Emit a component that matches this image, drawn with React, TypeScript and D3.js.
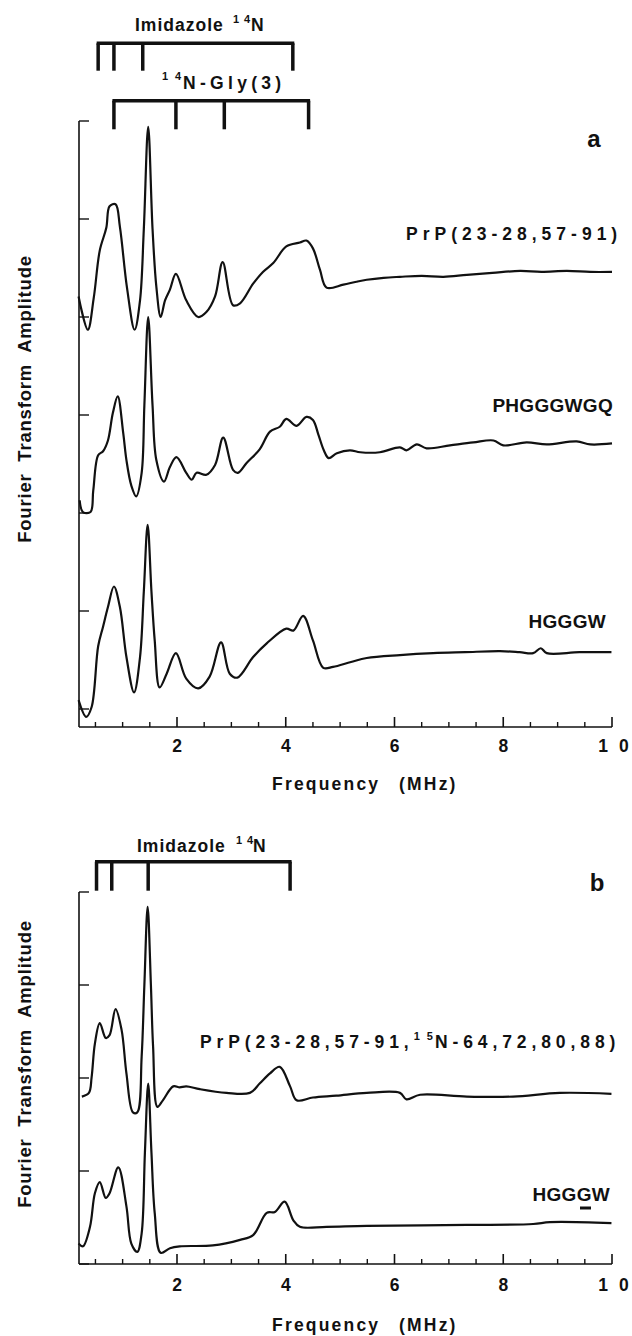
import { useEffect, useRef } from 'react';
import * as d3 from 'd3';

// traces: [frequency (MHz), amplitude in y-tick units]
const prpA = [[0.19,4.21],[0.36,3.87],[0.47,4.2],[0.58,4.68],[0.70,4.91],[0.76,5.13],[0.87,5.15],[0.95,4.92],[1.08,4.3],[1.22,3.87],[1.32,4.17],[1.39,4.9],[1.47,5.94],[1.55,4.9],[1.62,4.31],[1.70,4.00],[1.78,4.17],[1.87,4.28],[1.98,4.44],[2.17,4.17],[2.39,4.00],[2.54,4.05],[2.70,4.21],[2.84,4.56],[3.03,4.12],[3.16,4.14],[3.40,4.34],[3.58,4.46],[3.77,4.55],[4.01,4.72],[4.26,4.76],[4.38,4.78],[4.50,4.70],[4.63,4.48],[4.75,4.30],[5.06,4.33],[5.30,4.36],[5.49,4.38],[5.80,4.40],[6.10,4.41],[6.50,4.42],[6.90,4.41],[7.33,4.43],[7.80,4.45],[8.31,4.47],[8.70,4.46],[9.17,4.47],[9.60,4.46],[10.0,4.46]];
const phgggwgq = [[0.21,2.13],[0.27,2.01],[0.41,2.01],[0.46,2.23],[0.55,2.59],[0.64,2.63],[0.73,2.74],[0.82,3.02],[0.91,3.19],[1.01,2.82],[1.07,2.54],[1.16,2.28],[1.25,2.17],[1.35,2.41],[1.40,3.1],[1.47,4.00],[1.55,3.1],[1.62,2.54],[1.76,2.32],[1.87,2.47],[1.99,2.57],[2.17,2.41],[2.27,2.34],[2.36,2.41],[2.54,2.39],[2.70,2.49],[2.85,2.77],[3.03,2.44],[3.12,2.41],[3.28,2.51],[3.52,2.65],[3.71,2.83],[3.89,2.88],[4.01,2.96],[4.20,2.89],[4.38,2.98],[4.50,2.95],[4.60,2.80],[4.70,2.64],[4.79,2.56],[4.94,2.61],[5.18,2.64],[5.37,2.62],[5.73,2.62],[6.10,2.67],[6.22,2.64],[6.41,2.70],[6.59,2.66],[7.02,2.69],[7.45,2.72],[7.82,2.74],[8.00,2.69],[8.43,2.72],[8.80,2.70],[9.35,2.73],[9.60,2.70],[10.0,2.71]];
const hgggwA = [[0.19,0.09],[0.33,-0.08],[0.43,0.02],[0.55,0.64],[0.64,0.84],[0.73,1.04],[0.84,1.25],[0.95,1.04],[1.07,0.53],[1.21,0.17],[1.32,0.53],[1.39,1.2],[1.46,1.88],[1.53,1.2],[1.59,0.70],[1.68,0.22],[1.81,0.36],[1.98,0.57],[2.17,0.31],[2.39,0.21],[2.60,0.33],[2.81,0.68],[2.97,0.36],[3.11,0.32],[3.40,0.53],[3.65,0.67],[4.01,0.82],[4.14,0.80],[4.32,0.95],[4.50,0.70],[4.69,0.42],[4.87,0.43],[5.2,0.48],[5.49,0.52],[6.1,0.55],[6.71,0.57],[7.3,0.58],[7.94,0.59],[8.3,0.58],[8.55,0.57],[8.69,0.62],[8.80,0.57],[9.4,0.58],[9.99,0.58]];
const prpB = [[0.25,1.80],[0.38,1.84],[0.43,2.01],[0.49,2.37],[0.58,2.59],[0.69,2.43],[0.76,2.46],[0.87,2.74],[0.98,2.52],[1.07,2.05],[1.19,1.63],[1.27,1.63],[1.35,2.23],[1.40,3.0],[1.46,3.84],[1.52,3.0],[1.56,2.34],[1.64,1.69],[1.74,1.76],[1.93,1.91],[2.05,1.90],[2.17,1.91],[2.42,1.88],[2.91,1.84],[3.34,1.84],[3.52,1.94],[3.71,2.05],[3.89,2.12],[4.08,1.91],[4.20,1.76],[4.50,1.79],[4.93,1.81],[5.49,1.84],[6.10,1.84],[6.22,1.77],[6.47,1.82],[7.33,1.80],[8.18,1.80],[9.04,1.84],[9.99,1.83]];
const hgggwB = [[0.19,0.22],[0.27,0.19],[0.40,0.40],[0.49,0.76],[0.58,0.88],[0.69,0.71],[0.76,0.76],[0.92,1.04],[1.07,0.62],[1.16,0.22],[1.27,0.13],[1.35,0.33],[1.41,1.2],[1.47,1.94],[1.53,1.2],[1.59,0.55],[1.70,0.12],[1.87,0.17],[2.05,0.19],[2.66,0.20],[3.16,0.26],[3.40,0.31],[3.65,0.55],[3.80,0.56],[3.98,0.67],[4.14,0.47],[4.26,0.40],[4.75,0.40],[5.49,0.41],[7.33,0.42],[8.55,0.43],[8.86,0.45],[9.99,0.44]];

// stick diagrams (MHz)
const imidazoleA = [0.55, 0.84, 1.37, 4.13];
const glyA = [0.84, 1.98, 2.87, 4.42];
const imidazoleB = [0.52, 0.80, 1.47, 4.08];

const majorTicks = [2, 4, 6, 8, 10];
const tickLabels = ['2', '4', '6', '8', '1 0'];
const minorTicks = [0.5, 1, 1.5, 2.5, 3, 3.5, 4.5, 5, 5.5, 6.5, 7, 7.5, 8.5, 9, 9.5];
const yTicksA = [0, 1, 2, 3, 4, 5, 6];
const yTicksB = [0, 1, 2, 3, 4];

const FONT = "'Liberation Sans', Arial, Helvetica, sans-serif";

const App = () => {
  const svgRef = useRef(null);

  useEffect(() => {
    if (!svgRef.current) return;
    const svg = d3.select(svgRef.current);
    svg.selectAll('*').remove();

    const x = d3.scaleLinear().domain([0, 10]).range([68.25, 612]);
    const axisLeft = 79;

    const text = (tx, ty, str, size, opts = {}) =>
      svg.append('text')
        .attr('x', tx).attr('y', ty)
        .attr('font-family', FONT)
        .attr('font-weight', 'bold')
        .attr('font-size', size)
        .attr('letter-spacing', opts.ls ?? 0)
        .attr('text-anchor', opts.anchor ?? 'start')
        .attr('fill', '#111')
        .text(str);

    const bracket = (freqs, yH, yB) => {
      const g = svg.append('g').attr('stroke', '#111').attr('stroke-width', 3.5).attr('fill', 'none');
      g.append('line').attr('x1', x(freqs[0]) - 1.5).attr('x2', x(freqs[freqs.length - 1]) + 1.5)
        .attr('y1', yH).attr('y2', yH);
      freqs.forEach(f => {
        g.append('line').attr('x1', x(f)).attr('x2', x(f)).attr('y1', yH).attr('y2', yB);
      });
    };

    const panel = (y, yTicks, yTop, yBottom, traces, labelY, freqLabelY, ylabY) => {
      const g = svg.append('g').attr('stroke', '#111').attr('fill', 'none');
      // axes
      g.append('line').attr('x1', axisLeft).attr('x2', axisLeft).attr('y1', yTop).attr('y2', yBottom).attr('stroke-width', 1.6);
      g.append('line').attr('x1', axisLeft).attr('x2', x(10)).attr('y1', yBottom).attr('y2', yBottom).attr('stroke-width', 1.6);
      yTicks.forEach(t => {
        g.append('line').attr('x1', axisLeft).attr('x2', axisLeft + 10).attr('y1', y(t)).attr('y2', y(t)).attr('stroke-width', 1.4);
      });
      majorTicks.forEach(t => {
        g.append('line').attr('x1', x(t)).attr('x2', x(t)).attr('y1', yBottom).attr('y2', yBottom - 10).attr('stroke-width', 1.6);
      });
      minorTicks.forEach(t => {
        g.append('line').attr('x1', x(t)).attr('x2', x(t)).attr('y1', yBottom).attr('y2', yBottom - 5).attr('stroke-width', 1.4);
      });
      // traces
      const line = d3.line().x(d => x(d[0])).y(d => y(d[1])).curve(d3.curveCatmullRom.alpha(0.5));
      traces.forEach(tr => {
        g.append('path').attr('d', line(tr)).attr('stroke-width', 2.2).attr('stroke-linejoin', 'round');
      });
      // tick labels
      majorTicks.forEach((t, i) => {
        text(x(t) + (t === 10 ? 3 : 0), labelY, tickLabels[i], 17.5, { anchor: 'middle', ls: t === 10 ? 3 : 0 });
      });
      text(272, freqLabelY, 'Frequency', 17.5, { ls: 2.2 });
      text(399, freqLabelY, '(MHz)', 17.5, { ls: 2.2 });
      svg.append('text')
        .attr('transform', `translate(31,${ylabY}) rotate(-90)`)
        .attr('font-family', FONT).attr('font-weight', 'bold').attr('font-size', 18.5)
        .attr('letter-spacing', 0.8).attr('text-anchor', 'middle').attr('fill', '#111')
        .style('white-space', 'pre')
        .text('Fourier  Transform  Amplitude');
    };

    // ---------- panel a ----------
    const yA = d3.scaleLinear().domain([0, 6]).range([709, 121]);
    panel(yA, yTicksA, 121, 727, [prpA, phgggwgq, hgggwA], 752, 790, 399);
    bracket(imidazoleA, 43.3, 70.7);
    bracket(glyA, 100.7, 129.3);

    text(135, 31, 'Imidazole', 17.5, { ls: 1 });
    text(233, 23, '1', 11);
    text(244, 23, '4', 11);
    text(251, 31, 'N', 17.5);
    text(162, 80, '1', 11);
    text(175, 80, '4', 11);
    text(183, 89, 'N-Gly(3)', 17.5, { ls: 4.3 });
    text(594, 147, 'a', 24, { anchor: 'middle' });

    text(406, 240, 'PrP(23-28,57-91)', 17.5, { ls: 5 });
    text(613, 412, 'PHGGGWGQ', 19, { anchor: 'end', ls: 0.3 });
    text(606, 628, 'HGGGW', 19, { anchor: 'end', ls: 0.3 });

    // ---------- panel b ----------
    const yB = d3.scaleLinear().domain([0, 4]).range([1264, 892]);
    panel(yB, yTicksB, 892, 1264, [prpB, hgggwB], 1291, 1331, 1064);
    bracket(imidazoleB, 861.7, 890.7);

    text(137, 852, 'Imidazole', 17.5, { ls: 1 });
    text(236, 844, '1', 11);
    text(247, 844, '4', 11);
    text(253, 852, 'N', 17.5);
    text(597, 891, 'b', 24, { anchor: 'middle' });

    const lb = svg.append('text').attr('x', 200).attr('y', 1048)
      .attr('font-family', FONT).attr('font-weight', 'bold').attr('font-size', 17.5)
      .attr('letter-spacing', 4.9).attr('fill', '#111');
    lb.append('tspan').text('PrP(23-28,57-91,');
    lb.append('tspan').attr('dy', -8).attr('font-size', 11).attr('letter-spacing', 2).text('1 5');
    lb.append('tspan').attr('dy', 8).text('N-64,72,80,88)');

    text(610, 1201, 'HGGGW', 19, { anchor: 'end', ls: 0.3 });
    svg.append('line').attr('x1', 580).attr('x2', 591).attr('y1', 1208).attr('y2', 1208)
      .attr('stroke', '#111').attr('stroke-width', 3);
  }, []);

  return (
    <svg ref={svgRef} width={632} height={1336}
      style={{ position: 'absolute', left: 0, top: 0, background: '#fff' }} />
  );
};

export default App;
